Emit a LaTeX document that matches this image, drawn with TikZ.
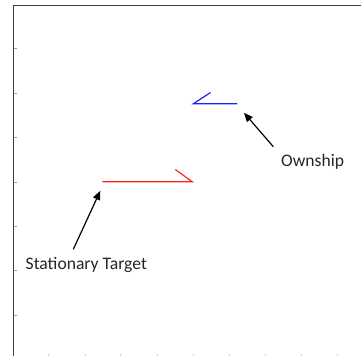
\documentclass[tikz,border=0pt]{standalone}
\usepackage{fontspec}
\setmainfont{Carlito}
\usetikzlibrary{arrows.meta}
\definecolor{axisgrey}{HTML}{404040}
\definecolor{tickgrey}{HTML}{A0A0A0}
\definecolor{faintgrey}{HTML}{D0D0D0}
\definecolor{shipblue}{HTML}{2020FF}
\definecolor{targetred}{HTML}{FF2020}
\tikzset{
  axisline/.style={draw=axisgrey, line width=1.3pt},
  tickmark/.style={draw=tickgrey, line width=0.8pt},
  xtickmark/.style={draw=faintgrey, line width=0.6pt},
  ownshipmark/.style={draw=shipblue, line width=1.2pt},
  targetmark/.style={draw=targetred, line width=1.2pt},
  callout/.style={draw=black, line width=1.2pt, -{Triangle[length=9pt,width=7.5pt]}},
  label/.style={font=\fontsize{17.6}{20}\selectfont, text=black!85, inner sep=0pt}
}
\begin{document}
\begin{tikzpicture}[x=1pt,y=-1pt]
  \useasboundingbox (0,0) rectangle (361,356);
  % plot frame: left and top axes
  \draw[axisline] (13.5,356) -- (13.5,5.5) -- (361,5.5);
  % y-axis ticks
  \foreach \ty in {48,93,137,182,226,270,315}
    \draw[tickmark] (13.5,\ty) -- (16.5,\ty);
  % x-axis ticks along the bottom edge
  \foreach \tx in {48,85,120,157,193,229,265,301,337}
    \draw[xtickmark] (\tx,356) -- (\tx,354);
  % ownship symbol
  \coordinate (ownA) at (193.3,103.8);
  \draw[ownshipmark] (210.5,92.5) -- (ownA) -- (237.3,103.8);
  % stationary target symbol
  \coordinate (tgtA) at (192.3,181.8);
  \draw[targetmark] (102.3,181.8) -- (tgtA) -- (175.3,169.5);
  % labels and callouts
  \node[label, anchor=base west] (ownlbl) at (281,166.5) {Ownship};
  \node[label, anchor=base west] (tgtlbl) at (25.5,269.3) {Stationary Target};
  \coordinate (ownTail) at (273.3,146.7);
  \coordinate (ownTip) at (244,112.8);
  \coordinate (tgtTail) at (73.3,249.3);
  \coordinate (tgtTip) at (100.3,190.8);
  \draw[callout] (ownTail) -- (ownTip);
  \draw[callout] (tgtTail) -- (tgtTip);
\end{tikzpicture}
\end{document}
